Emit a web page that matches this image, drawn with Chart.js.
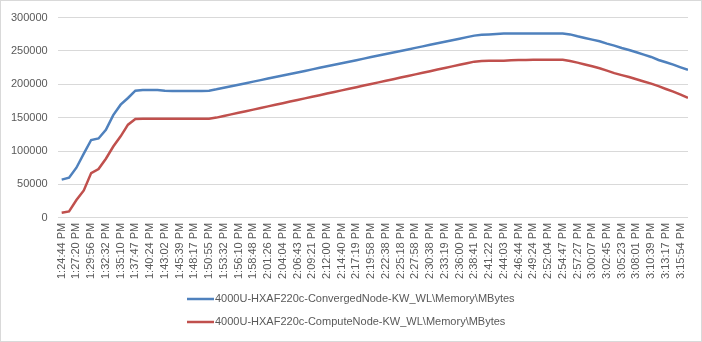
<!DOCTYPE html>
<html>
<head>
<meta charset="utf-8">
<script src="https://cdn.jsdelivr.net/npm/chart.js@4/dist/chart.umd.min.js"></script>
<style>
  html, body { margin: 0; padding: 0; background: #fff; }
  #wrap {
    width: 702px; height: 342px; box-sizing: border-box;
    border: 1px solid #d9d9d9; background: #fff; position: relative;
  }
</style>
</head>
<body>
<div id="wrap"><canvas id="memChart"></canvas></div>
<script>
// time stamps shown on the category axis (one every 2 samples)
const tickLabels = [
  "1:24:44 PM", "1:27:20 PM", "1:29:56 PM", "1:32:32 PM", "1:35:10 PM", "1:37:47 PM",
  "1:40:24 PM", "1:43:02 PM", "1:45:39 PM", "1:48:17 PM", "1:50:55 PM", "1:53:32 PM",
  "1:56:10 PM", "1:58:48 PM", "2:01:26 PM", "2:04:04 PM", "2:06:43 PM", "2:09:21 PM",
  "2:12:00 PM", "2:14:40 PM", "2:17:19 PM", "2:19:58 PM", "2:22:38 PM", "2:25:18 PM",
  "2:27:58 PM", "2:30:38 PM", "2:33:19 PM", "2:36:00 PM", "2:38:41 PM", "2:41:22 PM",
  "2:44:03 PM", "2:46:44 PM", "2:49:24 PM", "2:52:04 PM", "2:54:47 PM", "2:57:27 PM",
  "3:00:07 PM", "3:02:45 PM", "3:05:23 PM", "3:08:01 PM", "3:10:39 PM", "3:13:17 PM",
  "3:15:54 PM"
];
const SAMPLES_PER_TICK = 2;

const seriesNames = [
  "4000U-HXAF220c-ConvergedNode-KW_WL\\Memory\\MBytes",
  "4000U-HXAF220c-ComputeNode-KW_WL\\Memory\\MBytes"
];

// MBytes, sampled twice per labelled interval
const convergedMB = [
  57100, 60000, 75000, 96000, 116500, 118800, 131800, 153900, 169500, 179500,
  190500, 191500, 191500, 191500, 190500, 189800, 189800, 189800, 189800, 190000,
  190500, 192500, 194800, 197100, 199400, 201700, 204000, 206300, 208600, 210900,
  213200, 215500, 217800, 220100, 222400, 224700, 227000, 229300, 231600, 233900,
  236200, 238500, 240800, 243100, 245400, 247700, 250000, 252300, 254600, 256900,
  259200, 261500, 263800, 266100, 268400, 270700, 273000, 274300, 274800, 275300,
  276000, 276000, 276000, 276000, 276000, 276000, 276000, 276000, 276200, 274800,
  272000, 269500, 267000, 264500, 261000, 258000, 254500, 251500, 248000, 244500,
  241000, 236500, 233000, 229500, 225500, 221700
];
const computeMB = [
  7500, 9500, 26500, 41000, 67000, 73000, 88500, 106700, 122000, 139500,
  148000, 148500, 148500, 148500, 148500, 148500, 148500, 148500, 148500, 148500,
  148500, 150100, 152500, 154900, 157300, 159700, 162100, 164500, 166900, 169300,
  171700, 174100, 176500, 178900, 181300, 183700, 186100, 188500, 190900, 193300,
  195700, 198100, 200500, 202900, 205300, 207700, 210100, 212500, 214900, 217300,
  219700, 222100, 224500, 226900, 229300, 231700, 234000, 235000, 235300, 235500,
  235500, 236000, 236300, 236500, 236700, 236700, 236700, 236700, 236700, 235000,
  232500, 229800, 227000, 224000, 220500, 216800, 213800, 211000, 207500, 204200,
  201000, 197200, 193000, 189000, 184500, 179700
];

const yTicks = [0, 50000, 100000, 150000, 200000, 250000, 300000];

const FONT = "'Liberation Sans', Arial, sans-serif";
const TEXT_COLOR = "#595959";

const toPoints = (arr) => arr.map((v, k) => ({ x: k / SAMPLES_PER_TICK, y: v }));

// legend stacked in two rows under the axis labels
const stackedLegend = {
  id: "stackedLegend",
  afterDraw(chart) {
    const ctx = chart.ctx;
    const sets = chart.data.datasets;
    ctx.save();
    ctx.font = "11px " + FONT;
    ctx.textBaseline = "middle";
    const textW = Math.max(...sets.map((d) => ctx.measureText(d.label).width));
    const lineW = 27;
    const x0 = Math.round((chart.width - (lineW + 1 + textW)) / 2);
    sets.forEach((ds, i) => {
      const y = chart.height - 42 + i * 23;
      ctx.strokeStyle = ds.borderColor;
      ctx.lineWidth = 2.5;
      ctx.beginPath();
      ctx.moveTo(x0, y);
      ctx.lineTo(x0 + lineW, y);
      ctx.stroke();
      ctx.fillStyle = TEXT_COLOR;
      ctx.fillText(ds.label, x0 + lineW + 1, y);
    });
    ctx.restore();
  }
};

new Chart(document.getElementById("memChart"), {
  type: "line",
  data: {
    datasets: [
      {
        label: seriesNames[0],
        data: toPoints(convergedMB),
        borderColor: "#4F81BD",
        borderWidth: 2.5,
        pointRadius: 0,
        tension: 0
      },
      {
        label: seriesNames[1],
        data: toPoints(computeMB),
        borderColor: "#C0504D",
        borderWidth: 2.5,
        pointRadius: 0,
        tension: 0
      }
    ]
  },
  options: {
    responsive: true,
    maintainAspectRatio: false,
    animation: false,
    layout: { padding: { top: 7, right: 13, left: 0, bottom: 57 } },
    plugins: {
      legend: { display: false },
      tooltip: { enabled: false }
    },
    scales: {
      x: {
        type: "linear",
        min: -0.27,
        max: (convergedMB.length - 1) / SAMPLES_PER_TICK,
        afterBuildTicks: (axis) => {
          axis.ticks = tickLabels.map((_, i) => ({ value: i }));
        },
        grid: { display: false, drawTicks: false },
        border: { display: false },
        ticks: {
          autoSkip: false,
          maxRotation: 90,
          minRotation: 90,
          padding: 5,
          color: TEXT_COLOR,
          font: { family: FONT, size: 11 },
          callback: (value) => tickLabels[value]
        }
      },
      y: {
        min: yTicks[0],
        max: yTicks[yTicks.length - 1],
        afterBuildTicks: (axis) => {
          axis.ticks = yTicks.map((v) => ({ value: v }));
        },
        grid: { color: "#d9d9d9", lineWidth: 1, drawTicks: false },
        border: { display: false },
        ticks: {
          padding: 10,
          color: TEXT_COLOR,
          font: { family: FONT, size: 11 },
          callback: (value) => String(value)
        }
      }
    }
  },
  plugins: [stackedLegend]
});
</script>
</body>
</html>
